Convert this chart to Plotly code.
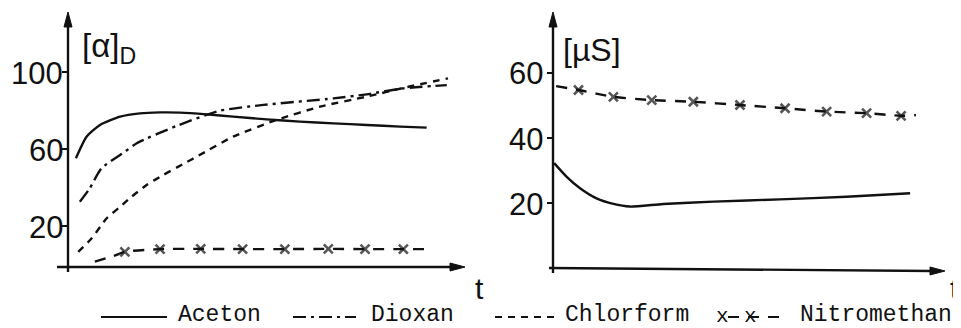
import plotly.graph_objects as go

# The page body adds an 8 px margin, so the figure is drawn 8 px smaller
# and every pixel position below is given in window pixels.
WIN_W, WIN_H, BODY = 961, 328, 8
W, H = WIN_W - BODY, WIN_H - BODY

# ---------------- data ----------------
# left panel: optical rotation [alpha]_D vs time t (arbitrary units 0..10)
t_aceton_l = [0.2, 0.47, 0.81, 1.32, 1.82, 2.33, 2.84, 3.51, 4.18, 5.03, 5.87, 6.72, 7.56, 8.41, 9.08]
v_aceton_l = [55.2, 66.4, 72.5, 76.8, 78.5, 79.0, 78.9, 78.0, 76.8, 75.4, 74.2, 73.3, 72.5, 71.6, 71.1]

t_dioxan_l = [0.3, 0.55, 0.85, 1.44, 1.74, 2.75, 3.85, 4.95, 6.72, 7.56, 8.49, 9.59]
v_dioxan_l = [32.6, 39.5, 50.0, 58.6, 63.0, 72.0, 79.9, 82.9, 86.3, 88.4, 91.5, 93.2]

t_chlor_l = [0.26, 0.6, 0.98, 1.32, 1.61, 1.99, 2.41, 2.9, 3.3, 4.18, 5.28, 6.38, 7.56, 8.57, 9.62]
v_chlor_l = [6.6, 13.6, 24.0, 30.0, 35.2, 41.3, 46.5, 52.0, 56.5, 66.4, 75.1, 82.0, 87.2, 92.1, 96.7]

t_nitro_l = [0.68, 1.15, 1.44, 2.33, 3.36, 4.42, 5.49, 6.59, 7.52, 8.49, 9.08]
v_nitro_l = [1.5, 4.4, 6.6, 8.0, 8.1, 8.0, 8.0, 8.1, 8.0, 8.0, 8.0]
m_nitro_l = [0, 0, 1, 1, 1, 1, 1, 1, 1, 1, 0]   # 1 = x marker drawn

# right panel: conductivity [µS] vs time t
t_aceton_r = [0.03, 0.35, 0.69, 1.11, 1.54, 1.96, 2.81, 4.09, 5.79, 7.49, 9.11]
v_aceton_r = [32.3, 28.1, 24.6, 21.5, 19.8, 19.0, 19.8, 20.5, 21.2, 22.0, 23.1]

t_nitro_r = [0.08, 0.65, 1.54, 2.52, 3.58, 4.77, 5.92, 6.98, 8.0, 8.88, 9.26]
v_nitro_r = [55.9, 54.7, 52.6, 51.6, 51.1, 50.1, 49.1, 48.1, 47.6, 46.8, 47.0]
m_nitro_r = [0, 1, 1, 1, 1, 1, 1, 1, 1, 1, 0]

ticks_left = [20, 60, 100]
ticks_right = [20, 40, 60]

series_names = ["Aceton", "Dioxan", "Chlorform", "Nitromethan"]

# ---------------- styling ----------------
INK = "#111111"
LW = 2.4
DASH = {
    "Aceton": "solid",
    "Dioxan": "13px,5px,3px,5px",
    "Chlorform": "7px,6px",
    "Nitromethan": "11px,9px",
}
FONT = "Liberation Sans, Arial, sans-serif"
MONO = "Liberation Mono, DejaVu Sans Mono, monospace"


def X(px):
    return (px - BODY) / W


def Y(py):
    return 1 - (py - BODY) / H


fig = go.Figure()


def line(x, y, name, xa, ya, markers=None):
    kw = dict(x=x, y=y, mode="lines", name=name, xaxis=xa, yaxis=ya,
              line=dict(color=INK, width=LW, dash=DASH[name], shape="spline", smoothing=0.6),
              showlegend=False, hoverinfo="skip")
    if markers is not None:
        kw["mode"] = "lines+markers"
        kw["marker"] = dict(symbol="x-thin", size=[9 * m for m in markers], color=INK,
                            line=dict(color=INK, width=2.6))
    fig.add_trace(go.Scatter(**kw))


line(t_aceton_l, v_aceton_l, "Aceton", "x", "y")
line(t_dioxan_l, v_dioxan_l, "Dioxan", "x", "y")
line(t_chlor_l, v_chlor_l, "Chlorform", "x", "y")
line(t_nitro_l, v_nitro_l, "Nitromethan", "x", "y", m_nitro_l)
line(t_aceton_r, v_aceton_r, "Aceton", "x2", "y2")
line(t_nitro_r, v_nitro_r, "Nitromethan", "x2", "y2", m_nitro_r)

# pixel geometry of the two panels (window pixels)
L_AX, L_PXU = 68, 39.5        # left y-axis px, px per t unit
R_AX, R_PXU = 553, 39.2
L_ZERO, L_PPV = 264.5, 1.925  # py of value 0, px per value
R_ZERO, R_PPV = 268.6, 3.265
TOP, BOT = 10, 300

tickstyle = dict(showgrid=False, zeroline=False, showline=False, tickmode="array",
                 ticks="outside", ticklen=6, tickwidth=2, tickcolor=INK,
                 showticklabels=False)

fig.update_layout(
    width=W, height=H, margin=dict(l=0, r=0, t=0, b=0),
    paper_bgcolor="white", plot_bgcolor="white",
    xaxis=dict(domain=[X(20), X(490)], range=[(20 - L_AX) / L_PXU, (490 - L_AX) / L_PXU],
               visible=False, anchor="y"),
    yaxis=dict(domain=[Y(BOT), Y(TOP)], range=[(L_ZERO - BOT) / L_PPV, (L_ZERO - TOP) / L_PPV],
               anchor="free", position=X(L_AX), tickvals=ticks_left, **tickstyle),
    xaxis2=dict(domain=[X(520), X(WIN_W)], range=[(520 - R_AX) / R_PXU, (WIN_W - R_AX) / R_PXU],
                visible=False, anchor="y2"),
    yaxis2=dict(domain=[Y(BOT), Y(TOP)], range=[(R_ZERO - BOT) / R_PPV, (R_ZERO - TOP) / R_PPV],
                anchor="free", position=X(R_AX), tickvals=ticks_right, **tickstyle),
)

shapes = []


def seg(x0, y0, x1, y1, width=2.4, dash="solid"):
    shapes.append(dict(type="line", xref="paper", yref="paper", x0=X(x0), y0=Y(y0),
                       x1=X(x1), y1=Y(y1), line=dict(color=INK, width=width, dash=dash)))


def head(tx, ty, direction):
    # filled narrow arrow head with its tip at (tx, ty)
    if direction == "up":
        pts = [(tx, ty), (tx - 4, ty + 15), (tx + 4, ty + 15)]
    else:
        pts = [(tx, ty), (tx - 15, ty - 4), (tx - 15, ty + 4)]
    path = "M " + " L ".join(f"{X(a):.5f},{Y(b):.5f}" for a, b in pts) + " Z"
    shapes.append(dict(type="path", xref="paper", yref="paper", path=path,
                       fillcolor=INK, line=dict(color=INK, width=1)))


# axes with arrow heads
seg(L_AX, 272, L_AX, 24)
head(L_AX, 12, "up")
seg(57, 267, 452, 267)
head(465, 267, "right")
seg(R_AX, 273, R_AX, 24)
head(R_AX, 12, "up")
seg(549, 268, 932, 271)
head(945, 271, "right")

ann = []


def text(px, py, s, size, family=FONT, xanchor="center"):
    ann.append(dict(xref="paper", yref="paper", x=X(px), y=Y(py), text=s, showarrow=False,
                    xanchor=xanchor, yanchor="middle", font=dict(family=family, size=size, color=INK)))


# tick labels placed on the axes' own value scale
for yref, vals, right_px in (("y", ticks_left, 64), ("y2", ticks_right, 544)):
    for v in vals:
        ann.append(dict(xref="paper", yref=yref, x=X(right_px), y=v, text=str(v),
                        showarrow=False, xanchor="right", yanchor="middle", yshift=-1,
                        borderpad=0, font=dict(family=FONT, size=31, color=INK)))

text(80, 48, "[α]<sub>D</sub>", 33, xanchor="left")
text(561, 50, "[µS]", 32, xanchor="left")
text(479, 288, "t", 30)
text(WIN_W, 288, "t", 30, xanchor="right")

# legend (a line of samples + labels below the panels)
LEG_Y = 315
leg_text_x = [176, 369, 563, 798]
sample_x = [(101, 167), (293, 356), (495, 560), (728, 786)]
for name, tx, (s0, s1) in zip(series_names, leg_text_x, sample_x):
    text(tx, LEG_Y, name, 23, family=MONO, xanchor="left")
    seg(s0, LEG_Y + 2, s1, LEG_Y + 2, width=2.2, dash=DASH[name])
# x marks of the Nitromethan legend sample
text(722, LEG_Y + 1, "x", 21, family=MONO)
text(750, LEG_Y + 1, "x", 21, family=MONO)

fig.update_layout(annotations=ann, shapes=shapes)
fig.write_html("out.html")
